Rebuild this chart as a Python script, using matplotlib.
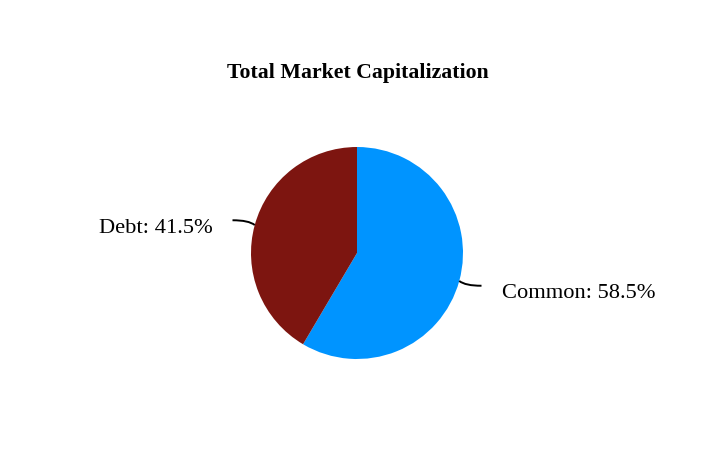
import matplotlib
matplotlib.use("Agg")
import matplotlib.pyplot as plt
import numpy as np
from matplotlib.path import Path
from matplotlib.patches import PathPatch

labels = ["Common", "Debt"]
values = [58.5, 41.5]
colors = ["#0094ff", "#7d1510"]
title = "Total Market Capitalization"

plt.rcParams['font.family'] = ['Liberation Serif', 'DejaVu Serif']

W, H = 716, 452
fig = plt.figure(figsize=(W/100, H/100), dpi=100)
cx, cy, r = 357, 254, 106
half = 1.5 * r
ax = fig.add_axes([(cx-half)/W, (H-cy-half)/H, 2*half/W, 2*half/H])
ax.set_xlim(-1.5, 1.5)
ax.set_ylim(-1.5, 1.5)
ax.set_aspect('equal')
ax.axis('off')

wedges, _ = ax.pie(values, colors=colors, startangle=90, counterclock=False,
                   radius=1.0, center=(0, 0), frame=False)
ax.set_xlim(-1.5, 1.5)
ax.set_ylim(-1.5, 1.5)

for w, lab, v in zip(wedges, labels, values):
    ang = np.deg2rad((w.theta1 + w.theta2) / 2)
    ex, ey = np.cos(ang), np.sin(ang)
    side = 1 if ex > 0 else -1
    p0 = (ex, ey)
    p1 = (1.06*ex, 1.06*ey + 0.03*np.sign(ey))
    p2 = (1.0*ex + side*0.21, ey + 0.045*np.sign(ey))
    path = Path([p0, p1, p2], [Path.MOVETO, Path.CURVE3, Path.CURVE3])
    ax.add_patch(PathPatch(path, fc='none', ec='black', lw=1.4, clip_on=False))
    tx = p2[0] + side*0.19
    ax.text(tx, p2[1] - 0.065, f"{lab}: {v}%", ha='left' if side > 0 else 'right',
            va='center', fontsize=16.2, clip_on=False)

fig.text(358/W, 1 - 73/H, title, ha='center', va='center', fontsize=15.7, fontweight='bold')

fig.savefig("out.png", dpi=100, facecolor='white')
